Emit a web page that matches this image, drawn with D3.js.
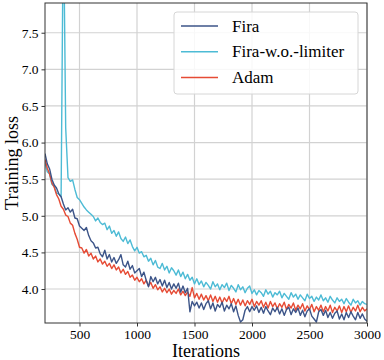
<!DOCTYPE html>
<html><head><meta charset="utf-8">
<script src="https://cdn.jsdelivr.net/npm/d3@7"></script>
<style>body{margin:0;background:#fff}svg{display:block}</style>
</head><body>
<svg id="c" width="384" height="360"></svg>
<script>
const iterations = [200,220,240,260,280,300,320,340,360,380,400,420,440,460,480,500,520,540,560,580,600,620,640,660,680,700,720,740,760,780,800,820,840,860,880,900,920,940,960,980,1000,1020,1040,1060,1080,1100,1120,1140,1160,1180,1200,1220,1240,1260,1280,1300,1320,1340,1360,1380,1400,1420,1440,1460,1480,1500,1520,1540,1560,1580,1600,1620,1640,1660,1680,1700,1720,1740,1760,1780,1800,1820,1840,1860,1880,1900,1920,1940,1960,1980,2000,2020,2040,2060,2080,2100,2120,2140,2160,2180,2200,2220,2240,2260,2280,2300,2320,2340,2360,2380,2400,2420,2440,2460,2480,2500,2520,2540,2560,2580,2600,2620,2640,2660,2680,2700,2720,2740,2760,2780,2800,2820,2840,2860,2880,2900,2920,2940,2960,2980,3000];

const fira = [
5.85,5.71,5.64,5.50,5.42, 5.38,5.30,5.26,5.16,5.08, 5.11,5.05,5.09,4.97,4.96, 4.86,4.83,4.80,4.84,4.73,
4.66,4.63,4.56,4.57,4.48, 4.44,4.53,4.41,4.47,4.37, 4.43,4.35,4.40,4.47,4.33, 4.30,4.38,4.27,4.32,4.22,
4.25,4.28,4.17,4.23,4.12, 4.03,4.17,4.10,4.16,4.07, 4.13,4.04,4.12,4.02,4.09, 4.00,4.07,4.01,4.08,3.96,
4.04,3.95,4.01,3.69,3.83, 3.77,3.82,3.74,3.81,3.72, 3.80,3.84,3.73,3.81,3.70, 3.79,3.75,3.82,3.70,3.78,
3.73,3.80,3.69,3.77,3.64, 3.55,3.58,3.71,3.76,3.69, 3.76,3.71,3.77,3.68,3.75, 3.67,3.76,3.70,3.65,3.74,
3.69,3.75,3.66,3.73,3.64, 3.72,3.75,3.65,3.73,3.68, 3.74,3.64,3.71,3.62,3.70, 3.73,3.63,3.59,3.55,3.69,
3.72,3.64,3.71,3.61,3.68, 3.60,3.67,3.70,3.59,3.66, 3.58,3.68,3.61,3.69,3.63, 3.58,3.68,3.60,3.66,3.59,
3.56];

const firaNoLimiter = [
5.72,5.60,5.57,5.43,5.40, 5.31,5.30,5.26,9.20,6.20, 5.52,5.47,5.49,5.36,5.25, 5.22,5.17,5.12,5.08,5.05,
5.02,4.99,4.93,4.97,4.91, 4.88,4.90,4.81,4.86,4.76, 4.80,4.72,4.78,4.69,4.65, 4.71,4.62,4.67,4.58,4.52,
4.57,4.49,4.51,4.44,4.46, 4.38,4.42,4.33,4.39,4.30, 4.28,4.35,4.26,4.31,4.22, 4.29,4.25,4.19,4.26,4.17,
4.23,4.14,4.20,4.12,4.16, 4.07,4.14,4.06,4.11,4.03, 4.09,4.05,4.00,4.10,4.03, 4.07,3.99,4.06,4.02,4.08,
3.98,4.05,4.01,3.96,4.06, 3.99,4.03,3.95,4.01,4.04, 3.94,3.99,3.92,3.98,3.95, 3.90,3.99,3.93,3.97,3.89,
3.95,3.92,3.97,3.88,3.94, 3.90,3.86,3.95,3.89,3.93, 3.86,3.92,3.88,3.84,3.93, 3.87,3.90,3.83,3.89,3.85,
3.92,3.84,3.88,3.82,3.90, 3.85,3.81,3.88,3.83,3.86, 3.80,3.87,3.82,3.78,3.86, 3.81,3.84,3.78,3.83,3.80,
3.79];

const adam = [
5.77,5.65,5.57,5.45,5.39, 5.29,5.23,5.13,5.09,5.01, 4.99,4.90,4.87,4.76,4.68, 4.57,4.56,4.49,4.54,4.45,
4.49,4.41,4.45,4.37,4.41, 4.34,4.38,4.31,4.35,4.28, 4.33,4.26,4.30,4.22,4.27, 4.20,4.24,4.16,4.19,4.12,
4.16,4.10,4.14,4.07,4.12, 4.04,4.09,4.01,4.06,3.99, 4.03,3.96,4.01,3.95,4.00, 3.93,3.98,3.94,4.00,3.92,
3.97,3.91,3.96,3.90,4.02, 3.88,3.94,3.86,3.93,3.85, 3.91,3.84,3.92,3.83,3.90, 3.82,3.89,3.81,3.88,3.83,
3.90,3.80,3.87,3.79,3.86, 3.78,3.85,3.77,3.84,3.79, 3.86,3.76,3.83,3.78,3.84, 3.75,3.82,3.74,3.83,3.76,
3.81,3.73,3.80,3.75,3.82, 3.72,3.79,3.74,3.81,3.71, 3.78,3.73,3.80,3.70,3.77, 3.72,3.79,3.69,3.76,3.71,
3.78,3.69,3.76,3.70,3.78, 3.68,3.75,3.70,3.77,3.68, 3.76,3.69,3.77,3.68,3.75, 3.70,3.78,3.69,3.75,3.70,
3.73];

const seriesNames = ["Fira","Fira-w.o.-limiter","Adam"];
const seriesColors = ["#3C5488","#4DBBD5","#E64B35"];
const xTicks = [500,1000,1500,2000,2500,3000];
const yTicks = [4.0,4.5,5.0,5.5,6.0,6.5,7.0,7.5];

const W=384,H=360, m={l:45,r:17,t:3,b:37};
const svg=d3.select("#c");
const x=d3.scaleLinear().domain([200,3000]).range([m.l,W-m.r]);
const y=d3.scaleLinear().domain([3.536,7.906]).range([H-m.b,m.t]);
const font="Liberation Serif, Times New Roman, serif";

// grid
svg.append("g").selectAll("line").data(xTicks).join("line")
  .attr("x1",d=>x(d)).attr("x2",d=>x(d)).attr("y1",m.t).attr("y2",H-m.b)
  .attr("stroke","#d2d2d2").attr("stroke-width",1.2);
svg.append("g").selectAll("line").data(yTicks).join("line")
  .attr("x1",m.l).attr("x2",W-m.r).attr("y1",d=>y(d)).attr("y2",d=>y(d))
  .attr("stroke","#d2d2d2").attr("stroke-width",1.2);

svg.append("clipPath").attr("id","clip").append("rect")
  .attr("x",m.l).attr("y",m.t).attr("width",W-m.l-m.r).attr("height",H-m.t-m.b);

const all=[fira,firaNoLimiter,adam];
const line=d3.line().x((d,i)=>x(iterations[i])).y(d=>y(d));
const lg=svg.append("g").attr("clip-path","url(#clip)");
[1,2,0].forEach(k=>{
  lg.append("path").datum(all[k]).attr("d",line).attr("fill","none")
    .attr("stroke",seriesColors[k]).attr("stroke-width",1.4).attr("stroke-linejoin","round");
});

// axes
const xa=svg.append("g").attr("transform",`translate(0,${H-m.b})`)
  .call(d3.axisBottom(x).tickValues(xTicks).tickSize(3.5).tickPadding(3).tickFormat(d3.format("d")));
const ya=svg.append("g").attr("transform",`translate(${m.l},0)`)
  .call(d3.axisLeft(y).tickValues(yTicks).tickSize(3.5).tickPadding(3).tickFormat(d3.format(".1f")));
[xa,ya].forEach(a=>{
  a.attr("font-family",font).attr("font-size",13.5);
  a.select(".domain").remove();
  a.selectAll("text").style("font-family",font).style("font-size","13.5px").attr("fill","#000");
  a.selectAll("line").attr("stroke","#333");
});
// frame
svg.append("rect").attr("x",m.l).attr("y",m.t).attr("width",W-m.l-m.r).attr("height",H-m.t-m.b)
  .attr("fill","none").attr("stroke","#333").attr("stroke-width",1);

svg.append("text").attr("x",(m.l+W-m.r)/2).attr("y",357).attr("text-anchor","middle")
  .style("font-family",font).style("font-size","18px").text("Iterations");
svg.append("text").attr("transform",`translate(18,${(m.t+H-m.b)/2}) rotate(-90)`).attr("text-anchor","middle")
  .style("font-family",font).style("font-size","18px").text("Training loss");

// legend
const leg=svg.append("g");
leg.append("rect").attr("x",174).attr("y",12).attr("width",184).attr("height",82).attr("rx",3)
  .attr("fill","#fff").attr("fill-opacity",0.85).attr("stroke","#d6d6d6");
seriesNames.forEach((n,i)=>{
  const yy=26+i*25.7;
  leg.append("line").attr("x1",181).attr("x2",218).attr("y1",yy).attr("y2",yy)
    .attr("stroke",seriesColors[i]).attr("stroke-width",1.5);
  leg.append("text").attr("x",232).attr("y",yy+5.5).style("font-family",font).style("font-size","17px").text(n);
});
</script>
</body></html>
